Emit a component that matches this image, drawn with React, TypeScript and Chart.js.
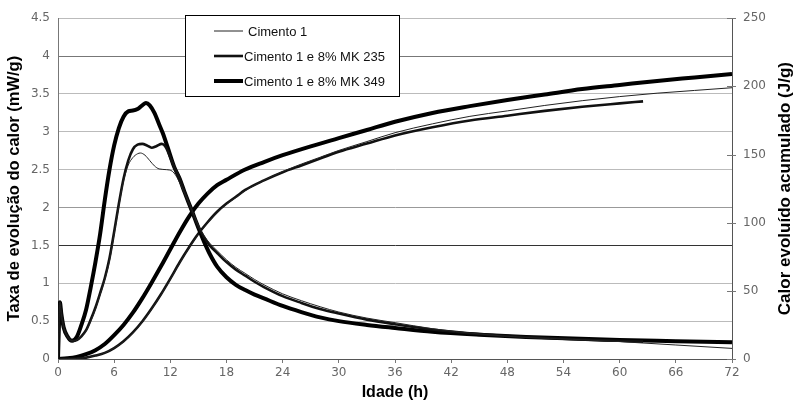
import React, { useEffect, useRef } from "react";
import { Chart, registerables } from "chart.js";

Chart.register(...registerables);

// ---- axis ticks ----
const hourTicks = [0, 6, 12, 18, 24, 30, 36, 42, 48, 54, 60, 66, 72];
const rateTicks = [0, 0.5, 1, 1.5, 2, 2.5, 3, 3.5, 4, 4.5];
const heatTicks = [0, 50, 100, 150, 200, 250];

// ---- series names ----
const seriesNames = ["Cimento 1", "Cimento 1 e 8% MK 235", "Cimento 1 e 8% MK 349"];

// ---- heat evolution rate (mW/g) ----
const rateHoursC1 = [0, 0.1, 0.2, 0.35, 0.6, 1.0, 1.5, 2.0, 2.5, 3.0, 3.5, 4.0, 4.5, 5.0, 5.5, 6.0, 6.5, 7.0, 7.5, 8.0, 8.5, 8.8, 9.3, 9.8, 10.3, 10.8, 11.6, 12.2, 12.6, 13.1, 14.1, 14.6, 15.1, 15.6, 16.2, 17, 18, 19, 20, 21, 22, 24, 26, 28, 30, 33, 36, 40, 45, 50, 55, 60, 66, 72];
const rateC1 = [0, 0.45, 0.75, 0.6, 0.42, 0.3, 0.24, 0.25, 0.3, 0.37, 0.5, 0.66, 0.85, 1.05, 1.3, 1.65, 2.02, 2.35, 2.56, 2.66, 2.71, 2.72, 2.69, 2.62, 2.55, 2.51, 2.5, 2.48, 2.42, 2.3, 2.03, 1.88, 1.74, 1.63, 1.53, 1.43, 1.31, 1.21, 1.13, 1.05, 0.98, 0.86, 0.77, 0.69, 0.62, 0.54, 0.48, 0.4, 0.33, 0.285, 0.26, 0.23, 0.185, 0.14];

const rateHours235 = [0, 0.1, 0.2, 0.35, 0.6, 1.0, 1.5, 2.0, 2.5, 3.0, 3.5, 4.0, 4.5, 5.0, 5.5, 6.0, 6.5, 7.0, 7.5, 8.0, 8.5, 9.0, 9.5, 10.0, 10.5, 11.1, 11.5, 12.0, 12.4, 13.0, 13.5, 14.1, 14.6, 15.1, 15.6, 16.2, 17, 18, 19, 20, 21, 22, 24, 26, 28, 30, 33, 36, 40, 45, 50, 55, 60, 62.5];
const rate235 = [0, 0.45, 0.75, 0.6, 0.42, 0.3, 0.24, 0.25, 0.3, 0.38, 0.52, 0.68, 0.87, 1.07, 1.33, 1.68, 2.05, 2.38, 2.62, 2.77, 2.83, 2.84, 2.82, 2.79, 2.81, 2.84, 2.8, 2.66, 2.54, 2.38, 2.21, 2.02, 1.86, 1.72, 1.61, 1.5, 1.4, 1.28, 1.18, 1.1, 1.02, 0.95, 0.83, 0.74, 0.66, 0.6, 0.52, 0.46, 0.39, 0.33, 0.29, 0.26, 0.24, 0.23];

const rateHours349 = [0, 0.1, 0.2, 0.35, 0.6, 1.0, 1.5, 2.0, 2.5, 3.0, 3.5, 4.0, 4.5, 5.0, 5.5, 6.0, 6.5, 7.0, 7.5, 8.0, 8.5, 9.0, 9.4, 9.8, 10.3, 10.8, 11.2, 11.7, 12.4, 13.0, 13.5, 14.1, 14.6, 15.1, 15.6, 16.2, 17, 18, 19, 20, 21, 22, 24, 26, 28, 30, 33, 36, 40, 45, 50, 55, 60, 66, 72];
const rate349 = [0, 0.45, 0.75, 0.6, 0.42, 0.3, 0.24, 0.29, 0.45, 0.65, 0.95, 1.28, 1.65, 2.1, 2.5, 2.82, 3.05, 3.2, 3.27, 3.28, 3.3, 3.35, 3.38, 3.35, 3.25, 3.1, 2.98, 2.8, 2.54, 2.38, 2.21, 2.02, 1.86, 1.7, 1.55, 1.39, 1.22, 1.08, 0.98, 0.91, 0.85, 0.8, 0.7, 0.62, 0.55, 0.5, 0.45, 0.41, 0.36, 0.32, 0.29, 0.27, 0.25, 0.235, 0.22];

// ---- cumulative heat (J/g) ----
const heatHoursC1 = [0, 2, 3, 4, 5, 6, 7, 8, 9, 10, 11, 12, 13, 14, 15, 16, 17, 18, 19, 20, 22, 24, 26, 28, 30, 33, 36, 40, 44, 48, 52, 56, 60, 64, 68, 72];
const heatC1 = [0, 0.4, 1, 2.5, 4.5, 8, 12.5, 19, 27, 36.5, 47, 58.5, 70.5, 81.5, 91.5, 100, 107.5, 113.5, 118.5, 123.5, 131, 137.5, 143, 148, 153, 159.5, 166, 172.5, 178, 182, 186, 189.5, 192.5, 195, 197, 199];

const heatHours235 = [0, 2, 3, 4, 5, 6, 7, 8, 9, 10, 11, 12, 13, 14, 15, 16, 17, 18, 19, 20, 22, 24, 26, 28, 30, 33, 36, 40, 44, 48, 52, 56, 60, 62.5];
const heat235 = [0, 0.4, 1, 2.5, 4.5, 8, 13, 19.5, 27.5, 37, 47.5, 59, 71, 82, 92, 100.5, 108, 114, 119, 124, 131, 137, 142, 147, 152, 158, 164, 170, 175, 178.5, 182, 185, 187.5, 189];

const heatHours349 = [0, 1, 2, 3, 4, 5, 6, 7, 8, 9, 10, 11, 12, 13, 14, 15, 16, 17, 18, 20, 22, 24, 27, 30, 33, 36, 40, 44, 48, 52, 56, 60, 64, 68, 72];
const heat349 = [0, 0.5, 1.5, 3.5, 6.5, 11, 17.5, 25, 34, 44.5, 56, 68, 80.5, 93, 104.5, 114, 121.5, 127.5, 131.5, 139, 144.5, 149.5, 156, 162, 168, 174, 180.5, 185.5, 190, 194, 198, 201, 204, 206.5, 209];

const FONT = "'Liberation Sans', Arial, sans-serif";
const TICK_FONT = "'DejaVu Sans', sans-serif";

const toPoints = (xs: number[], ys: number[]) => xs.map((x, i) => ({ x, y: ys[i] }));

const widths = [1, 2.6, 4];
const colors = ["#222", "#111", "#000"];

const legendPlugin = {
  id: "boxLegend",
  afterDatasetsDraw(chart: any) {
    const ctx = chart.ctx as CanvasRenderingContext2D;
    ctx.save();
    ctx.fillStyle = "#fff";
    ctx.fillRect(185, 15, 214, 81);
    ctx.strokeStyle = "#000";
    ctx.lineWidth = 1;
    ctx.strokeRect(185.5, 15.5, 214, 81);
    const rows = [31, 56, 81];
    const textX = [248, 244, 244];
    ctx.font = `13px ${FONT}`;
    ctx.textBaseline = "middle";
    ctx.textAlign = "left";
    seriesNames.forEach((name, i) => {
      ctx.beginPath();
      ctx.strokeStyle = colors[i];
      ctx.lineWidth = widths[i];
      ctx.moveTo(214, rows[i]);
      ctx.lineTo(243, rows[i]);
      ctx.stroke();
      ctx.fillStyle = "#111";
      ctx.fillText(name, textX[i], rows[i] + 1);
    });
    ctx.restore();
  },
  afterDraw(chart: any) {
    const ctx = chart.ctx as CanvasRenderingContext2D;
    const area = chart.chartArea;
    const y1 = chart.scales.y1;
    ctx.save();
    // right axis tick marks crossing the axis line
    ctx.strokeStyle = "#777";
    ctx.lineWidth = 1;
    heatTicks.forEach((v) => {
      const py = Math.round(y1.getPixelForValue(v)) + 0.5;
      ctx.beginPath();
      ctx.moveTo(area.right - 5, py);
      ctx.lineTo(area.right + 4, py);
      ctx.stroke();
    });
    ctx.translate(785, (area.top + area.bottom) / 2);
    ctx.rotate(-Math.PI / 2);
    ctx.font = `bold 17px ${FONT}`;
    ctx.fillStyle = "#000";
    ctx.textAlign = "center";
    ctx.textBaseline = "middle";
    ctx.fillText("Calor evoluído acumulado (J/g)", 0, 0);
    ctx.restore();
  },
};

export default function App() {
  const ref = useRef<HTMLCanvasElement>(null);

  useEffect(() => {
    document.body.style.margin = "0";
    const canvas = ref.current;
    if (!canvas) return;

    const mk = (label: string, pts: any[], i: number, axis: string) => ({
      label,
      data: pts,
      yAxisID: axis,
      borderColor: colors[i],
      borderWidth: widths[i],
      pointRadius: 0,
      fill: false,
      cubicInterpolationMode: "monotone" as const,
    });

    const chart = new Chart(canvas, {
      type: "line",
      data: {
        datasets: [
          mk(seriesNames[0], toPoints(rateHoursC1, rateC1), 0, "y"),
          mk(seriesNames[1], toPoints(rateHours235, rate235), 1, "y"),
          mk(seriesNames[2], toPoints(rateHours349, rate349), 2, "y"),
          mk(seriesNames[0], toPoints(heatHoursC1, heatC1), 0, "y1"),
          mk(seriesNames[1], toPoints(heatHours235, heat235), 1, "y1"),
          mk(seriesNames[2], toPoints(heatHours349, heat349), 2, "y1"),
        ],
      },
      options: {
        responsive: false,
        animation: false,
        devicePixelRatio: 1,
        layout: { padding: { top: 15, left: 0, right: 0, bottom: 0 } },
        plugins: { legend: { display: false }, tooltip: { enabled: false } },
        scales: {
          x: {
            type: "linear",
            min: 0,
            max: 72,
            afterBuildTicks: (s: any) => {
              s.ticks = hourTicks.map((v) => ({ value: v }));
            },
            afterFit: (s: any) => {
              s.height = 45;
            },
            grid: { drawOnChartArea: false, drawTicks: true, tickLength: 4, color: "#777" },
            border: { color: "#555", width: 1 },
            ticks: {
              padding: 3,
              color: "#666",
              font: { family: TICK_FONT, size: 12 },
              maxRotation: 0,
              callback: (v: any) => String(v),
            },
            title: {
              display: true,
              text: "Idade (h)",
              color: "#000",
              font: { family: FONT, size: 16, weight: "bold" },
              padding: { top: 0, bottom: 2 },
            },
          },
          y: {
            type: "linear",
            position: "left",
            min: 0,
            max: 4.5,
            afterBuildTicks: (s: any) => {
              s.ticks = rateTicks.map((v) => ({ value: v }));
            },
            afterFit: (s: any) => {
              s.width = 58;
            },
            grid: {
              drawTicks: false,
              color: (c: any) => {
                const v = c.tick && c.tick.value;
                if (v === 1.5) return "#333";
                if (v === 4) return "#777";
                if (v === 2) return "#999";
                if (v === 0) return "#555";
                return "#bbb";
              },
            },
            border: { color: "#777", width: 1 },
            ticks: {
              padding: 8,
              color: "#666",
              font: { family: TICK_FONT, size: 12 },
              callback: (v: any) => String(v),
            },
            title: {
              display: true,
              text: "Taxa de evolução do calor (mW/g)",
              color: "#000",
              font: { family: FONT, size: 16.5, weight: "bold" },
              padding: { top: 5, bottom: 0 },
            },
          },
          y1: {
            type: "linear",
            position: "right",
            min: 0,
            max: 250,
            afterBuildTicks: (s: any) => {
              s.ticks = heatTicks.map((v) => ({ value: v }));
            },
            afterFit: (s: any) => {
              s.width = 61;
            },
            grid: { drawOnChartArea: false, drawTicks: false, color: "#777" },
            border: { color: "#555", width: 1 },
            ticks: {
              padding: 11,
              color: "#666",
              font: { family: TICK_FONT, size: 12 },
              callback: (v: any) => String(v),
            },
          },
        },
      },
      plugins: [legendPlugin],
    } as any);

    return () => chart.destroy();
  }, []);

  return (
    <div style={{ width: 793, height: 404, position: "relative", background: "#fff" }}>
      <canvas ref={ref} width={793} height={404} style={{ display: "block", width: 793, height: 404 }} />
    </div>
  );
}
